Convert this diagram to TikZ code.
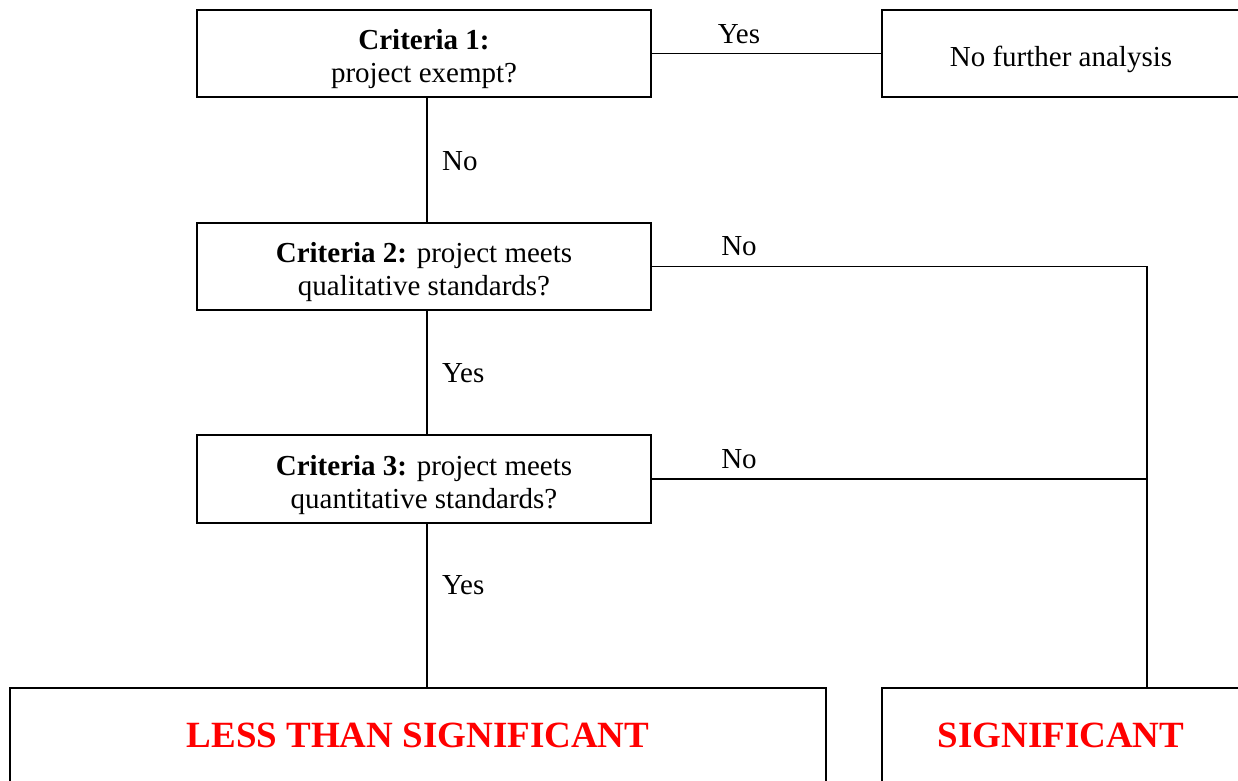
\documentclass[tikz,border=0pt]{standalone}
\usepackage{fontspec}
\setmainfont{Liberation Serif}
\newcommand{\topstrut}{\rule{0pt}{32pt}}
\begin{document}
\begin{tikzpicture}[x=1pt, y=-1pt,
    plainbox/.style={draw, line width=2.2pt, rectangle, inner sep=0pt, align=center},
    critbox/.style={plainbox, font=\fontsize{29}{33}\selectfont},
    endbox/.style={plainbox, font=\fontsize{37}{42}\selectfont\bfseries, text=red},
    lbl/.style={inner sep=0pt, anchor=base, font=\fontsize{29}{33}\selectfont},
    link/.style={line width=1.4pt}]
    \useasboundingbox (0,0) rectangle (1238,780);

    % Decision boxes
    \node[critbox, minimum width=454pt, minimum height=87pt] (crit1) at (424,53.5)
        {\topstrut\textbf{Criteria 1:}\\project exempt?};
    \node[critbox, minimum width=358pt, minimum height=87pt] (nofurther) at (1061,53.5)
        {\topstrut No further analysis};
    \node[critbox, minimum width=454pt, minimum height=87pt] (crit2) at (424,266.5)
        {\topstrut\textbf{Criteria 2:} project meets\\qualitative standards?};
    \node[critbox, minimum width=454pt, minimum height=88pt] (crit3) at (424,479)
        {\topstrut\textbf{Criteria 3:} project meets\\quantitative standards?};

    % Outcome boxes
    \node[endbox, minimum width=816pt, minimum height=94pt] (lessthan) at (418,735)
        {LESS THAN SIGNIFICANT};
    \node[endbox, minimum width=358pt, minimum height=94pt] (signif) at (1061,735)
        {SIGNIFICANT};

    % Connectors
    \coordinate (bend) at (1147,266.5);
    \draw[link] (crit1.east) -- (nofurther.west);
    \draw[link] ([xshift=3pt]crit1.south) -- ([xshift=3pt]crit2.north);
    \draw[link] ([xshift=3pt]crit2.south) -- ([xshift=3pt]crit3.north);
    \draw[link] ([xshift=3pt]crit3.south) -- ([xshift=3pt]crit3.south |- lessthan.north);
    \draw[link] (crit2.east) -- (bend) -- (bend |- signif.north);
    \draw[link] (crit3.east) -- (crit3.east -| bend);

    % Labels on the connectors
    \node[lbl] (yes1) at (739,43.5) {Yes};
    \node[lbl] (no2) at (739,255.5) {No};
    \node[lbl] (no3) at (739,468.5) {No};
    \node[lbl, anchor=base west] (no1) at (442,170.5) {No};
    \node[lbl, anchor=base west] (yes2) at (442,382.5) {Yes};
    \node[lbl, anchor=base west] (yes3) at (442,594.5) {Yes};
\end{tikzpicture}
\end{document}
